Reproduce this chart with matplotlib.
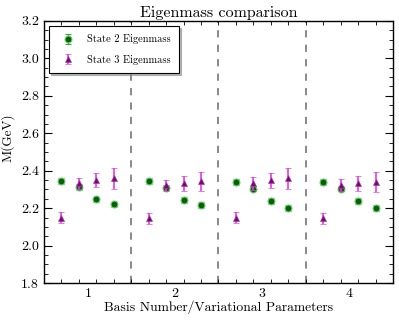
import numpy as np
import matplotlib
matplotlib.use('Agg')
import matplotlib.pyplot as plt
from matplotlib import rcParams

rcParams['font.family'] = 'serif'
rcParams['font.serif'] = ['cmr10']
rcParams['mathtext.fontset'] = 'cm'
rcParams['axes.formatter.use_mathtext'] = True
rcParams['font.size'] = 10

# Data: 4 bases, 4 variational parameter sets each
basis = [1, 2, 3, 4]
offsets = [-0.3, -0.1, 0.1, 0.3]

state2 = [[2.346, 2.314, 2.247, 2.220],
          [2.346, 2.310, 2.245, 2.218],
          [2.340, 2.305, 2.240, 2.200],
          [2.339, 2.305, 2.240, 2.200]]
state2_err = [[0.015, 0.015, 0.015, 0.015],
              [0.015, 0.015, 0.015, 0.015],
              [0.015, 0.015, 0.015, 0.015],
              [0.015, 0.015, 0.015, 0.015]]

state3 = [[2.150, 2.332, 2.350, 2.360],
          [2.147, 2.323, 2.332, 2.344],
          [2.150, 2.332, 2.350, 2.360],
          [2.147, 2.323, 2.332, 2.340]]
state3_err = [[0.029, 0.031, 0.039, 0.055],
              [0.029, 0.030, 0.041, 0.050],
              [0.030, 0.034, 0.040, 0.056],
              [0.029, 0.032, 0.041, 0.051]]

x = np.array([[b + o for o in offsets] for b in basis]).ravel()

fig = plt.figure(figsize=(3.99, 3.21), dpi=100)
ax = fig.add_axes([0.110, 0.118, 0.875, 0.817])

ax.errorbar(x, np.ravel(state2), yerr=np.ravel(state2_err), fmt='o', color='#006400',
            ms=5, mec='#7fc97f', mew=0.8, ecolor='#33aa33', elinewidth=1, capsize=2.5,
            label='State 2 Eigenmass', zorder=3)
ax.errorbar(x, np.ravel(state3), yerr=np.ravel(state3_err), fmt='^', color='#800080',
            ms=5, mec='#a040a0', mew=0.5, ecolor='#e040e0', elinewidth=1.2, capsize=2.5,
            label='State 3 Eigenmass', zorder=4)

for xv in [1.5, 2.5, 3.5]:
    ax.axvline(xv, color='#808080', ls=(0, (4, 4)), lw=1.3, zorder=1)

ax.set_xlim(0.5, 4.5)
ax.set_ylim(1.8, 3.2)
ax.set_xticks(basis)
ax.set_xticks(np.arange(0.5, 4.51, 0.2), minor=True)
ax.set_yticks(np.arange(1.8, 3.21, 0.2))
ax.set_yticks(np.arange(1.8, 3.21, 0.05), minor=True)
ax.yaxis.set_major_formatter(matplotlib.ticker.FormatStrFormatter('%.1f'))
ax.tick_params(axis='both', which='both', direction='in', top=True, right=True)
ax.tick_params(axis='x', which='major', length=0, pad=3)
ax.tick_params(axis='y', which='major', length=6)
ax.tick_params(which='minor', length=3)
for s in ax.spines.values():
    s.set_linewidth(1.0)

ax.set_title('Eigenmass comparison', fontsize=11.5, pad=3)
ax.set_xlabel('Basis Number/Variational Parameters', fontsize=9.8, labelpad=0)
ax.set_ylabel('M(GeV)', fontsize=9.5)
ax.yaxis.set_label_coords(-0.085, 0.553)

leg = ax.legend(loc='upper left', fontsize=7.5, numpoints=1, fancybox=False,
                shadow={'color': '0.55', 'alpha': 0.6, 'ox': 1.5, 'oy': -1.5},
                framealpha=1, borderpad=0.8, labelspacing=1.0)
leg.get_frame().set_edgecolor('black')
leg.get_frame().set_linewidth(0.8)

fig.savefig('out.png', dpi=100)
